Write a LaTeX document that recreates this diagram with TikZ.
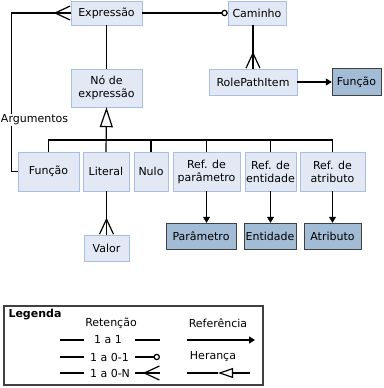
\documentclass[tikz,border=0pt]{standalone}
\usepackage{fontspec}
\setmainfont{DejaVu Sans}
\usepackage{xcolor}
\usepackage{tikz}
\usetikzlibrary{arrows.meta}
\definecolor{boxfill}{HTML}{E2E9F5}
\definecolor{boxline}{HTML}{A9BFE0}
\definecolor{darkfill}{HTML}{A3BCD6}
\definecolor{darkline}{HTML}{404040}

\begin{document}
\begin{tikzpicture}[x=1pt,y=-1pt,font=\fontsize{11}{13}\selectfont,
  ent/.style={draw=boxline,fill=boxfill,inner sep=1pt,align=center},
  extent/.style={draw=darkline,fill=darkfill,inner sep=1pt,align=center},
  conn/.style={line width=1.2pt},
  ref/.style={conn,-{Triangle[length=6pt,width=7pt]}},
  crow/.style={conn,postaction={draw,-{Straight Barb[reversed,length=15pt,width=14pt]}}},
  opt/.style={conn,-{Circle[open,length=6.5pt,width=6.5pt]}},
  inh/.style={conn,{Triangle[open,length=20pt,width=13pt]}-}]
  \useasboundingbox (0,0) rectangle (383,388);
  \node[ent,minimum width=71pt,minimum height=24pt] (expr) at (106.5,13) {Expressão};
  \node[ent,minimum width=58pt,minimum height=24pt] (caminho) at (257,13) {Caminho};
  \node[ent,minimum width=71pt,minimum height=38pt] (no) at (106.5,88) {Nó de\\expressão};
  \node[ent,minimum width=88pt,minimum height=26pt] (rpi) at (253,82) {RolePathItem};
  \node[extent,minimum width=49pt,minimum height=27pt] (funcaoR) at (356.5,82) {Função};
  \node[ent,minimum width=61pt,minimum height=39pt] (funcao) at (48.5,171.5) {Função};
  \node[ent,minimum width=46pt,minimum height=39pt] (literal) at (106,171.5) {Literal};
  \node[ent,minimum width=34pt,minimum height=39pt] (nulo) at (151,171.5) {Nulo};
  \node[ent,minimum width=67pt,minimum height=39pt] (refpar) at (206.5,171.5) {Ref. de\\parâmetro};
  \node[ent,minimum width=51pt,minimum height=39pt] (refent) at (270.5,171.5) {Ref. de\\entidade};
  \node[ent,minimum width=65pt,minimum height=39pt] (refatr) at (332.5,171.5) {Ref. de\\atributo};
  \node[extent,minimum width=70pt,minimum height=26pt] (param) at (201,236) {Parâmetro};
  \node[extent,minimum width=52pt,minimum height=26pt] (entid) at (270,236) {Entidade};
  \node[extent,minimum width=57pt,minimum height=26pt] (atrib) at (332.5,236) {Atributo};
  \node[ent,minimum width=45pt,minimum height=26pt] (valor) at (106.5,248) {Valor};

  \draw[opt] (expr.east) -- (caminho.west);
  \draw[conn] (expr.south) -- (no.north);
  \draw[crow] (rpi.north |- caminho.south) -- (rpi.north);
  \draw[ref] (rpi.east) -- (funcaoR.west);
  \draw[crow] (funcao.west) -- ++(-6,0) |- (expr.west);
  \node[fill=white,inner sep=1pt] (args) at (34.5,120) {Argumentos};

  % heranca
  \coordinate (bar) at (106,140);
  \draw[inh] (no.south) -- (literal.north);
  \foreach \n in {funcao,nulo,refpar,refent,refatr}
    \draw[conn] (\n.north) |- (bar);
  \draw[crow] (valor.north |- literal.south) -- (valor.north);
  \draw[ref] (refpar.south) -- (refpar.south |- param.north);
  \draw[ref] (refent.south) -- (refent.south |- entid.north);
  \draw[ref] (refatr.south) -- (refatr.south |- atrib.north);

  % legenda
  \draw[darkline,line width=1.4pt] (4,306) rectangle (263,385);
  \node[anchor=west,font=\fontsize{11}{13}\selectfont\bfseries] (legenda) at (5,315) {Legenda};
  \node (retencao) at (111,323) {Retenção};
  \node (referencia) at (218,323) {Referência};
  \node[inner sep=0pt] (um) at (108,340) {1 a 1};
  \node[inner sep=0pt] (zeroum) at (109.5,357) {1 a 0-1};
  \node[inner sep=0pt] (zeron) at (110,373) {1 a 0-N};
  \node (heranca) at (213,357) {Herança};
  \foreach \y in {340,357,373}
    \draw[conn] (60,\y) -- (84,\y);
  \draw[conn] (135,340) -- (160,340);
  \draw[opt] (135,357) -- (160,357);
  \draw[crow] (135,373) -- (160,373);
  \draw[ref] (187,340) -- (255,340);
  \coordinate (happ) at (218,373);
  \draw[conn] (187,373) -- (happ);
  \draw[conn,{Triangle[open,length=15pt,width=10pt]}-] (happ) -- (250,373);
\end{tikzpicture}
\end{document}
